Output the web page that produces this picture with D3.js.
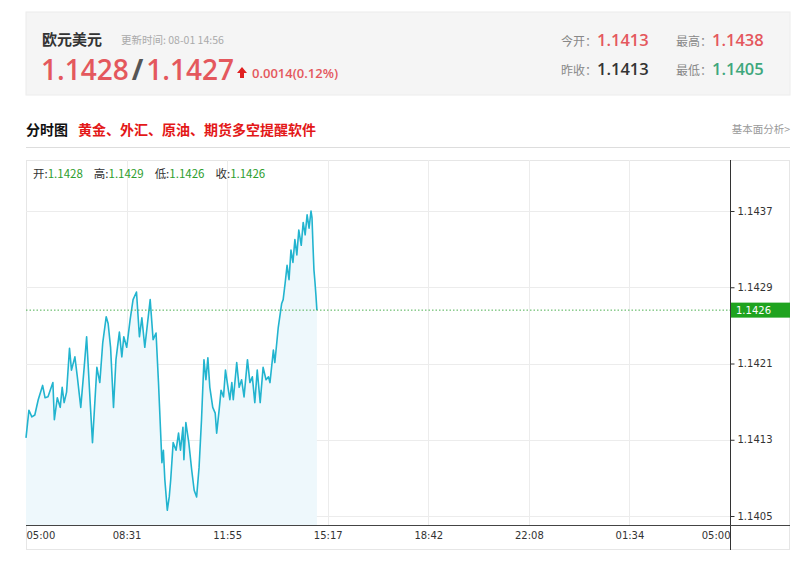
<!DOCTYPE html>
<html>
<head>
<meta charset="utf-8">
<script src="https://cdn.jsdelivr.net/npm/d3@7"></script>
<style>
  html, body { margin: 0; padding: 0; background: #fff; }
  svg { display: block; }
</style>
</head>
<body>
<svg id="chart" width="800" height="580"></svg>
<script>
// ---------- data ----------
const title = "欧元美元";
const updateTime = "更新时间: 08-01 14:56";
const bidAsk = ["1.1428", "1.1427"];
const change = "0.0014(0.12%)";
const stats = [
  { label: "今开：", value: "1.1413", kind: "up" },
  { label: "最高：", value: "1.1438", kind: "up" },
  { label: "昨收：", value: "1.1413", kind: "flat" },
  { label: "最低：", value: "1.1405", kind: "down" }
];
const ohlcLabels = ["开:", "高:", "低:", "收:"];
const ohlcValues = ["1.1428", "1.1429", "1.1426", "1.1426"];

const xTickLabels = ["05:00", "08:31", "11:55", "15:17", "18:42", "22:08", "01:34", "05:00"];
const yTickValues = [1.1405, 1.1413, 1.1421, 1.1429, 1.1437];
const lastPrice = 1.14266;
const lastPriceLabel = "1.1426";

// minutes after 05:00
const minutes = [0,6,12,18,25,34,39,45,55,58,64,70,74,78,83,89,93,100,105,112,119,124,131,136,145,151,157,164,168,173,179,184,191,196,200,206,213,219,226,232,237,243,254,260,266,271,278,281,284,289,293,296,301,307,312,316,321,323,327,333,339,344,349,354,359,364,368,372,376,382,387,390,395,399,404,408,414,417,421,424,431,436,441,446,453,458,463,468,473,479,485,491,496,499,506,509,513,516,523,526,530,534,538,542,546,550,554,558,563,567,571,575,579,583,585,587,589,591,593,595];
const prices = [1.14132,1.14161,1.14154,1.14156,1.14172,1.14187,1.14174,1.14175,1.14190,1.14151,1.14174,1.14164,1.14185,1.14169,1.14180,1.14226,1.14203,1.14217,1.14196,1.14164,1.14206,1.14238,1.14172,1.14127,1.14206,1.14190,1.14232,1.14259,1.14252,1.14227,1.14164,1.14214,1.14243,1.14217,1.14238,1.14227,1.14256,1.14277,1.14285,1.14238,1.14258,1.14227,1.14277,1.14235,1.14242,1.14190,1.14106,1.14119,1.14088,1.14056,1.14070,1.14088,1.14127,1.14119,1.14137,1.14119,1.14143,1.14109,1.14148,1.14127,1.14098,1.14077,1.14070,1.14101,1.14151,1.14214,1.14193,1.14216,1.14185,1.14164,1.14158,1.14137,1.14161,1.14182,1.14175,1.14203,1.14182,1.14172,1.14190,1.14172,1.14211,1.14185,1.14193,1.14175,1.14214,1.14190,1.14196,1.14169,1.14203,1.14169,1.14206,1.14193,1.14196,1.14190,1.14224,1.14211,1.14232,1.14248,1.14273,1.14277,1.14294,1.14313,1.14298,1.14329,1.14316,1.14340,1.14324,1.14350,1.14334,1.14358,1.14345,1.14366,1.14352,1.14370,1.14363,1.14334,1.14308,1.14296,1.14282,1.14266];

// ---------- drawing ----------
const svg = d3.select("#chart");
const cjk = "'Noto Sans CJK SC', 'Open Sans', sans-serif";
const num = "'Open Sans', 'Noto Sans', sans-serif";
const red = "#e4585d", green = "#3ea77c", dark = "#333";

// header box
svg.append("rect").attr("x", 26).attr("y", 12).attr("width", 764).attr("height", 83)
  .attr("fill", "#f5f5f5").attr("stroke", "#ececec");
svg.append("text").attr("x", 42).attr("y", 45).text(title)
  .attr("font-family", cjk).attr("font-size", 15).attr("font-weight", "bold").attr("fill", "#333");
svg.append("text").attr("x", 121).attr("y", 44).text(updateTime)
  .attr("font-family", cjk).attr("font-size", 10.5).attr("fill", "#aaa");

const big = svg.append("text").attr("x", 41).attr("y", 80)
  .attr("font-family", num).attr("font-size", 28).attr("font-weight", "600");
big.append("tspan").text(bidAsk[0]).attr("fill", red);
big.append("tspan").text("/").attr("fill", "#555").attr("dx", 3).attr("font-weight", "700");
big.append("tspan").text(bidAsk[1]).attr("fill", red).attr("dx", 3);
// arrow
svg.append("path").attr("d", "M242,67 L247,73 L244,73 L244,78 L240,78 L240,73 L237,73 Z").attr("fill", "#e02020");
svg.append("text").attr("x", 252).attr("y", 78).text(change)
  .attr("font-family", num).attr("font-size", 13).attr("font-weight", "600").attr("fill", red);

const statPos = [[561, 46], [676, 46], [561, 75], [676, 75]];
stats.forEach((s, i) => {
  const t = svg.append("text").attr("x", statPos[i][0]).attr("y", statPos[i][1]);
  t.append("tspan").text(s.label).attr("font-family", cjk).attr("font-size", 12).attr("fill", "#888");
  t.append("tspan").text(s.value).attr("font-family", num).attr("font-size", 16.5).attr("font-weight", "600")
    .attr("fill", s.kind === "up" ? red : s.kind === "down" ? green : dark);
});

// section title
svg.append("text").attr("x", 26).attr("y", 135).text("分时图")
  .attr("font-family", cjk).attr("font-size", 14).attr("font-weight", "bold").attr("fill", "#111");
svg.append("text").attr("x", 78).attr("y", 135).text("黄金、外汇、原油、期货多空提醒软件")
  .attr("font-family", cjk).attr("font-size", 14).attr("font-weight", "bold").attr("fill", "#e31818");
svg.append("text").attr("x", 790).attr("y", 133).attr("text-anchor", "end").text("基本面分析>")
  .attr("font-family", cjk).attr("font-size", 10.5).attr("fill", "#999");
svg.append("line").attr("x1", 26).attr("x2", 790).attr("y1", 147.5).attr("y2", 147.5).attr("stroke", "#ddd");

// chart frame
const L = 26, R = 730, T = 160, B = 525, FR = 790, FB = 550;
svg.append("rect").attr("x", L + 0.5).attr("y", T + 0.5).attr("width", FR - L - 1).attr("height", FB - T - 1)
  .attr("fill", "#fff").attr("stroke", "#e6e6e6");

const x = d3.scaleLinear().domain([0, 1440]).range([L, R]);
const y = d3.scaleLinear().domain([1.1405, 1.1437]).range([516, 211]);
const xTickVals = xTickLabels.map((_, i) => i * 1440 / (xTickLabels.length - 1));

// grid
const g = svg.append("g");
g.selectAll(".hg").data(yTickValues).join("line")
  .attr("x1", L).attr("x2", R).attr("y1", d => Math.round(y(d)) + 0.5).attr("y2", d => Math.round(y(d)) + 0.5)
  .attr("stroke", "#ececec");
g.selectAll(".vg").data(xTickVals.slice(1, -1)).join("line")
  .attr("x1", d => Math.round(x(d)) + 0.5).attr("x2", d => Math.round(x(d)) + 0.5).attr("y1", T).attr("y2", B)
  .attr("stroke", "#ececec");

// area + line
const data = minutes.map((m, i) => ({ m, p: prices[i] }));
const area = d3.area().x(d => x(d.m)).y0(B).y1(d => y(d.p));
const line = d3.line().x(d => x(d.m)).y(d => y(d.p));
svg.append("path").datum(data).attr("d", area).attr("fill", "#eef8fc");
svg.append("path").datum(data).attr("d", line).attr("fill", "none")
  .attr("stroke", "#22b4cf").attr("stroke-width", 1.6).attr("stroke-linejoin", "round");

// last price dotted line
svg.append("line").attr("x1", L).attr("x2", R).attr("y1", y(lastPrice)).attr("y2", y(lastPrice))
  .attr("stroke", "#4caf50").attr("stroke-width", 1).attr("stroke-dasharray", "1.5,2");

// y axis (right)
const yAxis = d3.axisRight(y).tickValues(yTickValues).tickSize(4).tickPadding(3).tickFormat(d3.format(".4f"));
const ya = svg.append("g").attr("transform", `translate(${R + 0.5},0)`).call(yAxis);
ya.select(".domain").remove();
ya.append("line").attr("x1", 0).attr("x2", 0).attr("y1", T).attr("y2", FB).attr("stroke", "#333");
ya.selectAll("text").attr("font-family", "'DejaVu Sans', sans-serif").attr("font-size", 10).attr("fill", "#333");
ya.selectAll(".tick line").attr("stroke", "#333");

// last price label
svg.append("rect").attr("x", R + 1).attr("y", y(lastPrice) - 7.5).attr("width", FR - R - 1).attr("height", 15).attr("fill", "#1fa31f");
svg.append("text").attr("x", R + 6).attr("y", y(lastPrice) + 4).text(lastPriceLabel)
  .attr("font-family", "'DejaVu Sans', sans-serif").attr("font-size", 10).attr("fill", "#fff");

// x axis
const xAxis = d3.axisBottom(x).tickValues(xTickVals).tickSize(0).tickPadding(6)
  .tickFormat((d, i) => xTickLabels[i]);
const xa = svg.append("g").attr("transform", `translate(0,${B + 0.5})`).call(xAxis);
xa.select(".domain").remove();
xa.append("line").attr("x1", L).attr("x2", FR).attr("stroke", "#444");
xa.selectAll("text").attr("font-family", "'DejaVu Sans', sans-serif").attr("font-size", 10).attr("fill", "#333")
  .attr("text-anchor", (d, i) => i === 0 ? "start" : i === xTickLabels.length - 1 ? "end" : "middle");

// OHLC label
const oh = svg.append("text").attr("x", 33).attr("y", 178).attr("font-family", cjk).attr("font-size", 11.5);
ohlcLabels.forEach((l, i) => {
  oh.append("tspan").text(l).attr("fill", "#333").attr("dx", i === 0 ? 0 : 11);
  oh.append("tspan").text(ohlcValues[i]).attr("fill", "#2e9e2e");
});
</script>
</body>
</html>
